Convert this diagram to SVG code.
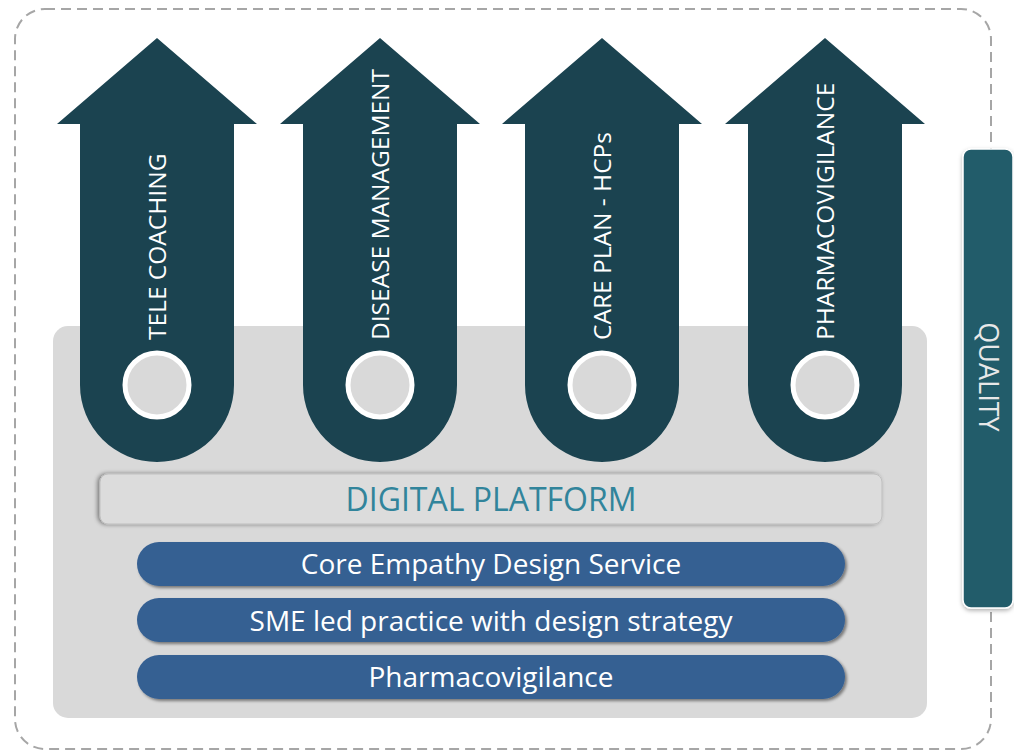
<svg xmlns="http://www.w3.org/2000/svg" width="1014" height="752" viewBox="0 0 1014 752">
<defs>
<filter id="sh" x="-10%" y="-30%" width="120%" height="160%">
<feDropShadow dx="2" dy="2" stdDeviation="1.5" flood-color="#000" flood-opacity="0.45"/>
</filter>
<filter id="sh2" x="-10%" y="-30%" width="120%" height="160%">
<feDropShadow dx="-2" dy="0" stdDeviation="2" flood-color="#000" flood-opacity="0.45"/>
</filter>
<filter id="sh3" x="-30%" y="-10%" width="160%" height="120%">
<feDropShadow dx="0" dy="2" stdDeviation="2" flood-color="#000" flood-opacity="0.3"/>
</filter>
<path id="arrow" d="M -100 86 L 0 0 L 100 86 L 77 86 L 77 347 A 77 77 0 0 1 -77 347 L -77 86 Z"/>
</defs>
<style>
.arr{fill:#1B4350}
.ring{fill:#D9D9D9;stroke:#fff;stroke-width:5}
.at{font-family:"Open Sans","Liberation Sans",sans-serif;font-size:24.5px;fill:#fff}
.pill{fill:#366092}
.pt{font-family:"Open Sans","Liberation Sans",sans-serif;font-size:28px;fill:#fff;text-anchor:middle}
</style>
<rect x="15" y="9" width="976" height="740" rx="30" fill="none" stroke="#A6A6A6" stroke-width="2" stroke-dasharray="10 6"/>
<g id="base"><rect x="53" y="326" width="874" height="392" rx="15" fill="#D9D9D9"/></g>
<g id="arrow1">
<use href="#arrow" x="157" y="38" class="arr"/>
<circle cx="157" cy="385" r="32" class="ring"/>
<text class="at" transform="translate(166,340) rotate(-90)">TELE COACHING</text>
</g>
<g id="arrow2">
<use href="#arrow" x="380" y="38" class="arr"/>
<circle cx="380" cy="385" r="32" class="ring"/>
<text class="at" transform="translate(389,340) rotate(-90)">DISEASE MANAGEMENT</text>
</g>
<g id="arrow3">
<use href="#arrow" x="602" y="38" class="arr"/>
<circle cx="602" cy="385" r="32" class="ring"/>
<text class="at" transform="translate(611,340) rotate(-90)">CARE PLAN - HCPs</text>
</g>
<g id="arrow4">
<use href="#arrow" x="825" y="38" class="arr"/>
<circle cx="825" cy="385" r="32" class="ring"/>
<text class="at" transform="translate(834,340) rotate(-90)">PHARMACOVIGILANCE</text>
</g>
<g id="platform">
<rect x="100" y="474" width="782" height="50" rx="8" fill="#DCDCDC" stroke="#BFBFBF" stroke-width="1" filter="url(#sh2)"/>
<text x="491" y="511" font-family="'Open Sans','Liberation Sans',sans-serif" font-size="32" fill="#31849B" text-anchor="middle">DIGITAL PLATFORM</text>
</g>
<g id="service1">
<rect x="137" y="542" width="708" height="44" rx="22" class="pill" filter="url(#sh)"/>
<text x="491" y="574" class="pt">Core Empathy Design Service</text>
</g>
<g id="service2">
<rect x="137" y="598" width="708" height="44" rx="22" class="pill" filter="url(#sh)"/>
<text x="491" y="631" class="pt">SME led practice with design strategy</text>
</g>
<g id="service3">
<rect x="137" y="655" width="708" height="44" rx="22" class="pill" filter="url(#sh)"/>
<text x="491" y="687" class="pt">Pharmacovigilance</text>
</g>
<g id="quality">
<rect x="963" y="149" width="50" height="459" rx="8" fill="#235B6A" stroke="#fff" stroke-width="1.5" filter="url(#sh3)"/>
<text transform="translate(979,377) rotate(90)" font-family="'Open Sans','Liberation Sans',sans-serif" font-size="27" fill="#E8E8E8" text-anchor="middle">QUALITY</text>
</g>
<g id="connectors"></g>
</svg>
